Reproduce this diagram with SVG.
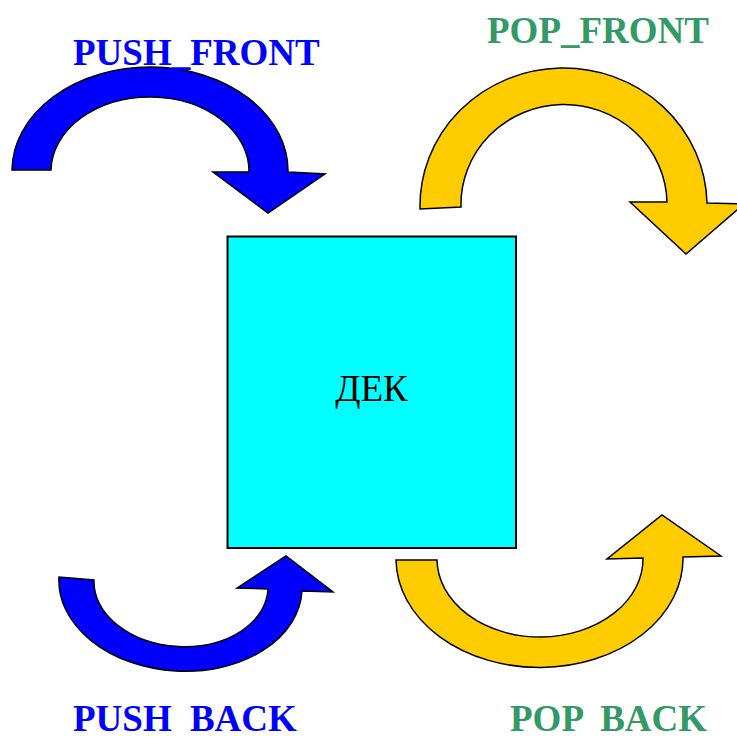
<svg xmlns="http://www.w3.org/2000/svg" width="737" height="740" viewBox="0 0 737 740">
<style>
.lbl{font-family:"Liberation Serif","Times New Roman",serif;font-weight:bold;font-size:37px}
.blue{fill:#0000FF}
.green{fill:#339966}
.wide{word-spacing:9px}
.arr{stroke:#000;stroke-width:1.5;stroke-linejoin:miter}
.ab{fill:#0000FF}
.ay{fill:#FFCC00}
</style>
<rect width="737" height="740" fill="#FFFFFF"/>
<g id="deque">
<rect x="227.5" y="236.5" width="288.5" height="311.5" fill="#00FFFF" stroke="#000" stroke-width="2"/>
<text x="371.5" y="401" text-anchor="middle" font-family="'Liberation Serif','Times New Roman',serif" font-size="37" fill="#000">ДЕК</text>
</g>
<g id="connectors">
<path id="push-front-arrow" class="arr ab" d="M12,170 A138,104 0 0 1 288,172 L325,174 L268,213 L213,172 L249,172 A99,74 0 0 0 51,170 Z"/>
<path id="pop-front-arrow" class="arr ay" d="M420,209 A143.5,138 0 0 1 707,203 L744,204 L686,254 L630,202 L667,202 A103,100 0 0 0 461,207 Z"/>
<path id="push-back-arrow" class="arr ab" d="M59,577 A121.5,87 3.3 0 0 302,591 L333,592 L286,556 L237,588 L268,589 A87,62 3.3 0 1 94,580 Z"/>
<path id="pop-back-arrow" class="arr ay" d="M396,560 A143.5,109 0 0 0 683,557 L721,556 L662,515 L607,559 L643,558 A103,78 0 0 1 437,560 Z"/>
</g>
<g id="label-push-front"><text class="lbl blue" x="73" y="65">PUSH_FRONT</text></g>
<g id="label-pop-front"><text class="lbl green" x="487" y="43">POP_FRONT</text></g>
<g id="label-push-back"><text class="lbl blue wide" x="73" y="731">PUSH BACK</text></g>
<g id="label-pop-back"><text class="lbl green wide" x="510" y="731">POP BACK</text></g>
</svg>
